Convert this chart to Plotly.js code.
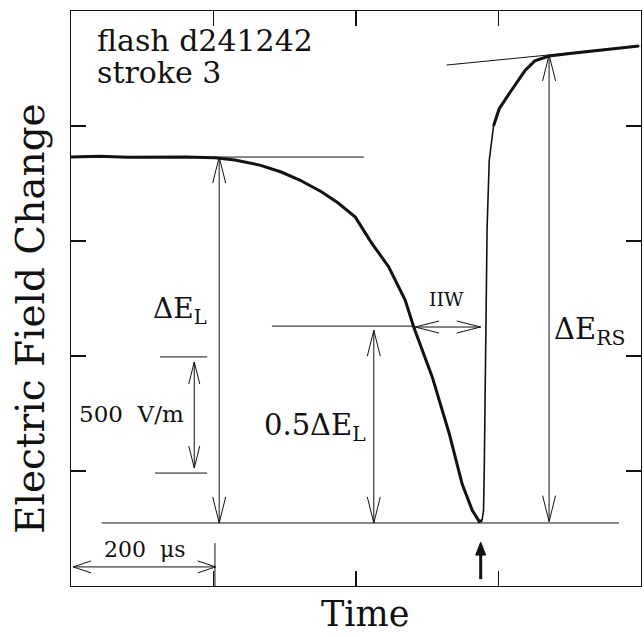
<!DOCTYPE html>
<html>
<head>
<meta charset="utf-8">
<script src="https://cdn.plot.ly/plotly-3.0.1.min.js"></script>
<style>html,body{margin:0;padding:0;background:#fff;}</style>
</head>
<body>
<div id="chart" style="width:644px;height:637px;"></div>
<script>
// Waveform: time in microseconds, field change in V/m
// leader / slow field change before the return stroke
const fall_time_us = [0, 40, 80, 120, 160, 202, 230, 265, 295, 321, 352, 375, 399, 422, 446, 469, 481, 507, 531, 549, 563, 573, 577];
const fall_field_Vm = [1865, 1868, 1864, 1866, 1865, 1862, 1852, 1830, 1800, 1765, 1713, 1665, 1604, 1491, 1387, 1243, 1126, 909, 661, 443, 330, 280, 285];
// fast return-stroke rise
const rise_time_us = [577, 579, 580, 581, 582, 584, 587, 593];
const rise_field_Vm = [285, 330, 500, 800, 1170, 1560, 1850, 2000];
// after the return stroke
const post_time_us = [593, 601, 617, 637, 651, 671, 700, 727, 760, 797];
const post_field_Vm = [2000, 2075, 2150, 2240, 2283, 2304, 2315, 2325, 2335, 2348];
const xTickVals = [200, 400, 600];
const yTickVals = [500, 1000, 1500, 2000];
const xTitle = 'Time';
const yTitle = 'Electric Field Change';

const SERIF = 'DejaVu Serif, Liberation Serif, serif';
const INK = '#111';
const shapes = [];
function seg(x0, y0, x1, y1, w) {
  shapes.push({type: 'line', xref: 'x', yref: 'y', x0: x0, y0: y0, x1: x1, y1: y1, line: {color: INK, width: w || 1}});
}
function head(x, y, dir, len, hw) {
  len = len || 24; hw = hw || 6;
  let p;
  if (dir === 'up') p = `M${-hw},${-len}L0,0L${hw},${-len}`;
  else if (dir === 'down') p = `M${-hw},${len}L0,0L${hw},${len}`;
  else if (dir === 'right') p = `M${-len},${hw}L0,0L${-len},${-hw}`;
  else p = `M${len},${hw}L0,0L${len},${-hw}`;
  shapes.push({type: 'path', xref: 'x', yref: 'y', xsizemode: 'pixel', ysizemode: 'pixel',
               xanchor: x, yanchor: y, path: p, line: {color: INK, width: 1}});
}
function vArrow(x, yTop, yBot, len, hw) { seg(x, yTop, x, yBot); head(x, yTop, 'up', len, hw); head(x, yBot, 'down', len, hw); }
function hArrow(y, xL, xR, len, hw) { seg(xL, y, xR, y); head(xL, y, 'left', len, hw); head(xR, y, 'right', len, hw); }

// reference lines
seg(202, 1865, 411, 1865);          // pre-stroke level
seg(43, 274, 769, 274);             // minimum level
seg(282, 1130, 481, 1130);          // half level
seg(527, 2265, 799, 2348);          // post-stroke extrapolation
seg(125, 996, 191, 996);            // scale bar top
seg(118, 491, 191, 491);            // scale bar bottom
seg(202, 187, 202, 0);              // 200 us marker
// arrows
vArrow(208, 1865, 274, 26, 6.5);    // dE_L
vArrow(425, 1112, 274, 26, 6.5);    // 0.5 dE_L
vArrow(671, 2309, 280, 26, 6.5);    // dE_RS
vArrow(173, 974, 513, 22, 5.5);     // 500 V/m
hArrow(83, 3, 203, 18, 6);          // 200 us
hArrow(1126, 483, 575, 24, 6);      // IIW
// thick return-stroke marker arrow
seg(575, 30, 575, 160, 3);
shapes.push({type: 'path', xref: 'x', yref: 'y', xsizemode: 'pixel', ysizemode: 'pixel',
             xanchor: 575, yanchor: 191, path: 'M-5,-13L0,0L5,-13Z', fillcolor: INK, line: {color: INK, width: 1}});

function T(text, x, y, size, xa, ya) {
  return {text: text, x: x, y: y, xref: 'x', yref: 'y', showarrow: false,
          font: {family: SERIF, size: size, color: INK}, xanchor: xa || 'left', yanchor: ya || 'middle'};
}
const annotations = [
  T('flash d241242', 33, 2370, 30),
  T('stroke 3', 33, 2234, 30),
  T('ΔE<sub>L</sub>', 112, 1200, 28),
  T('0.5ΔE<sub>L</sub>', 268, 690, 29),
  T('ΔE<sub>RS</sub>', 675, 1110, 29),
  T('IIW', 527, 1250, 19, 'center'),
  T('500\u00a0 V/m', 9, 748, 23),
  T('200\u00a0 μs', 44, 157, 22),
  // axis titles
  {text: xTitle, xref: 'paper', yref: 'paper', x: 0.516, y: -0.049, xanchor: 'center', yanchor: 'middle',
   showarrow: false, font: {family: SERIF, size: 35, color: INK}},
  {text: yTitle, xref: 'paper', yref: 'paper', x: -0.072, y: 0.466, xanchor: 'center', yanchor: 'middle',
   textangle: -90, showarrow: false, font: {family: SERIF, size: 39, color: INK}}
];

const lineStyle = {color: INK, width: 3};
const traces = [
  {x: fall_time_us, y: fall_field_Vm, type: 'scatter', mode: 'lines', line: lineStyle, hoverinfo: 'skip'},
  {x: rise_time_us, y: rise_field_Vm, type: 'scatter', mode: 'lines', line: {color: INK, width: 1.6}, hoverinfo: 'skip'},
  {x: post_time_us, y: post_field_Vm, type: 'scatter', mode: 'lines', line: lineStyle, hoverinfo: 'skip'}
];

const axisCommon = {showline: true, linecolor: INK, linewidth: 1.2, mirror: 'ticks',
                    ticks: 'inside', ticklen: 15, tickwidth: 1.2, tickcolor: INK,
                    showticklabels: false, showgrid: false, zeroline: false, fixedrange: true};

const layout = {
  width: 644, height: 637,
  margin: {l: 71, r: 3, t: 11, b: 51},
  paper_bgcolor: '#fff', plot_bgcolor: '#fff',
  showlegend: false,
  xaxis: Object.assign({}, axisCommon, {range: [0, 800], tickvals: xTickVals}),
  yaxis: Object.assign({}, axisCommon, {range: [0, 2500], tickvals: yTickVals}),
  shapes: shapes,
  annotations: annotations
};

Plotly.newPlot('chart', traces, layout, {staticPlot: true, displayModeBar: false});
</script>
</body>
</html>
